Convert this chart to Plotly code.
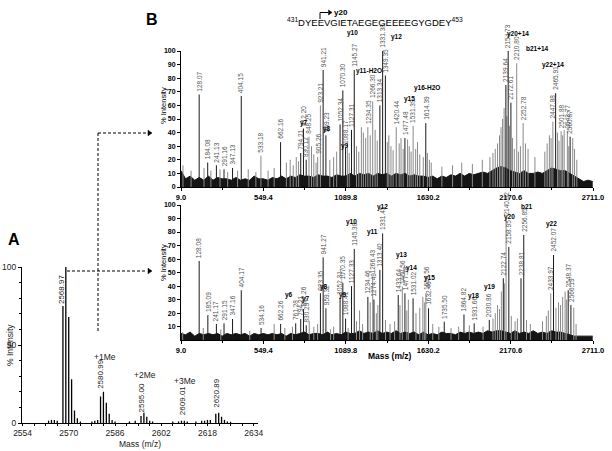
import plotly.graph_objects as go

W, H = 612, 451
FONT = "Liberation Sans, Arial, sans-serif"


def px(x):
    return x / W


def py(y):
    return 1 - y / H


# ---------------- Panel A data ----------------
a_mz = [2563.0, 2564.0, 2565.0, 2566.0, 2567.97, 2568.97, 2569.97, 2570.97, 2571.97, 2572.97,
        2574.0, 2578.0, 2579.0, 2580.0, 2580.99, 2581.99, 2582.99, 2583.99, 2584.99, 2586.0,
        2591.0, 2593.0, 2595.00, 2596.00, 2597.00, 2598.00, 2599.0, 2606.0, 2608.0, 2609.01,
        2610.0, 2611.0, 2614.0, 2616.0, 2617.0, 2618.0, 2619.0, 2620.89, 2621.89, 2622.89,
        2623.89, 2624.89, 2626.0]
a_int = [1.5, 2, 2, 1.5, 75, 100, 68, 28, 8, 3,
         1, 1, 1.5, 2, 17, 20, 13, 6, 2, 1,
         1, 1.5, 4.5, 6.5, 4, 1.5, 1, 1, 1, 1.5,
         1.5, 1, 1, 1.5, 1.5, 2, 2, 6, 6.6, 4,
         2, 1, 0.8]
a_label_text = ["2568.97", "2580.99", "2595.00", "2609.01", "2620.89"]
a_label_mz = [2567.3, 2580.99, 2595.0, 2609.3, 2620.89]
a_label_int = [74, 20, 4.5, 3.0, 8.0]
a_group_text = ["+1Me", "+2Me", "+3Me"]
a_group_mz = [2582.6, 2596.5, 2610.2]
a_group_int = [42, 31, 27]
a_xticks = [2554, 2570, 2586, 2602, 2618, 2634]

# ---------------- Panel B top (methylated) ----------------
top_main_mz = [128.07, 184.08, 241.13, 291.16, 347.13, 404.15, 662.16, 794.21, 812.20, 830.12,
               941.21, 959.23, 1052.34, 1070.30, 1088.17, 1127.31, 1145.27, 1313.34, 1331.38, 1349.35,
               1477.48, 1614.39, 2139.64, 2154.73, 2172.61, 2465.91, 2560.87]
top_main_int = [68, 18, 16, 13, 14, 67, 33, 25, 43, 20,
                86, 38, 46, 71, 29, 42, 86, 60, 100, 82,
                36, 47, 75, 100, 62, 69, 37]
top_over_mz = [533.18, 848.25, 905.26, 923.21, 1234.35, 1266.30, 1420.44, 1531.39, 2210.80, 2252.78,
               2447.88, 2501.88, 2542.77]
top_over_int = [23, 37, 22, 60, 44, 63, 44, 45, 91, 47,
                48, 41, 41]
top_minor_mz = [22, 75, 160, 205, 265,
                315, 380, 450, 500, 580,
                620, 700, 725, 745, 765,
                780, 865, 880, 895, 985,
                1010, 1030, 1100, 1112, 1160,
                1175, 1192, 1205, 1220, 1250,
                1282, 1296, 1362, 1372, 1386,
                1400, 1440, 1452, 1466, 1495,
                1506, 1518, 1548, 1560, 1575,
                1598, 1625, 1638, 1650, 1720,
                1790, 1850, 1920, 1985, 2035,
                2055, 2070, 2085, 2098, 2108,
                2118, 2128, 2146, 2163, 2183,
                2195, 2222, 2235, 2268, 2285,
                2330, 2395, 2410, 2425, 2436,
                2478, 2488, 2512, 2522, 2552,
                2578, 2590, 2605]
top_minor_int = [16, 12, 14, 12, 13,
                 11, 12, 13, 11, 12,
                 14, 18, 20, 16, 22,
                 19, 30, 24, 18, 20,
                 22, 26, 32, 25, 30,
                 26, 44, 40, 36, 38,
                 42, 34, 33, 38, 30,
                 27, 32, 36, 28, 35,
                 30, 26, 28, 33, 24,
                 22, 25, 20, 18, 15,
                 16, 18, 17, 20, 22,
                 25, 28, 32, 38, 44,
                 50, 58, 52, 45, 36,
                 28, 26, 30, 32, 28,
                 22, 26, 32, 38, 36,
                 40, 34, 38, 42, 30,
                 36, 28, 20]
top_ion_text = ["y7", "y8", "y9", "y10", "y11-H2O", "y12", "y15", "y16-H2O", "y20+14", "b21+14", "y22+14"]
top_ion_mz = [818, 969, 1087, 1133, 1245, 1422, 1508, 1620, 2218, 2350, 2448]
top_ion_int = [47, 43, 30, 113, 85, 110, 65, 73, 112.5, 102, 90]

noise_mz = [9, 39, 69, 99, 129, 159, 189, 219, 249, 279,
            309, 339, 369, 399, 429, 459, 489, 519, 549, 579,
            609, 639, 669, 699, 729, 759, 789, 819, 849, 879,
            909, 939, 969, 999, 1029, 1059, 1089, 1119, 1149, 1179,
            1209, 1239, 1269, 1299, 1329, 1359, 1389, 1419, 1449, 1479,
            1509, 1539, 1569, 1599, 1629, 1659, 1689, 1719, 1749, 1779,
            1809, 1839, 1869, 1899, 1929, 1959, 1989, 2019, 2049, 2079,
            2109, 2139, 2169, 2199, 2229, 2259, 2289, 2319, 2349, 2379,
            2409, 2439, 2469, 2499, 2529, 2559, 2589, 2619, 2649, 2679,
            2709]
top_noise = [12, 6, 8, 5, 7, 5, 8, 5, 7, 6,
             6, 5, 7, 5, 6, 5, 8, 6, 6, 5,
             7, 6, 8, 6, 8, 7, 9, 8, 8, 7,
             9, 8, 8, 7, 9, 8, 8, 10, 8, 10,
             9, 10, 8, 10, 9, 10, 8, 10, 9, 10,
             8, 9, 8, 8, 7, 8, 6, 8, 7, 9,
             8, 10, 8, 10, 9, 10, 11, 10, 12, 14,
             15, 14, 12, 11, 10, 12, 10, 10, 11, 10,
             12, 14, 13, 12, 12, 10, 8, 6, 4, 5,
             4]

# ---------------- Panel B bottom (unmodified) ----------------
bot_main_mz = [128.08, 185.09, 241.17, 291.15, 347.16, 404.17, 534.16, 662.26, 761.28, 794.21,
               812.26, 830.29, 923.35, 941.27, 959.32, 1052.31, 1070.35, 1088.41, 1127.33, 1145.38,
               1234.46, 1274.49, 1313.40, 1331.45, 1433.64, 1477.58, 1531.02, 1632.46, 1735.50, 1864.82,
               1931.66, 2030.86, 2122.74, 2158.95, 2238.81, 2256.85, 2452.07, 2548.37, 2566.19]
bot_main_int = [58.6, 18.5, 12, 12.5, 15.7, 37, 9, 12, 12.5, 15.7,
                23, 11, 34.7, 61.3, 23.6, 31.5, 42.5, 16, 40, 67.5,
                32, 30, 52, 79, 33.4, 34.7, 31, 23.6, 13.7, 19,
                12.5, 15, 45.8, 69, 45.8, 77.8, 63, 37, 26]
bot_over_mz = [1266.43, 1460.56, 1614.56, 2140.92, 2433.97]
bot_over_int = [47, 39.6, 34.7, 90, 34.7]
bot_minor_mz = [20, 155, 270, 460, 620,
                690, 740, 850, 880, 905,
                990, 1010, 1105, 1160, 1180,
                1200, 1250, 1290, 1300, 1350,
                1380, 1410, 1445, 1490, 1500,
                1550, 1575, 1595, 1605, 1660,
                1700, 1780, 1830, 1900, 1990,
                2055, 2070, 2085, 2098, 2110,
                2130, 2175, 2200, 2215, 2275,
                2300, 2380, 2405, 2418, 2468,
                2485, 2498, 2512, 2528, 2538,
                2585, 2600]
bot_minor_int = [6, 9, 8, 7, 12,
                 9, 10, 14, 10, 12,
                 8, 10, 9, 14, 22,
                 12, 28, 20, 26, 15,
                 12, 14, 26, 22, 30,
                 20, 24, 32, 28, 12,
                 10, 9, 10, 11, 10,
                 16, 20, 26, 23, 36,
                 42, 18, 14, 16, 15,
                 12, 14, 18, 22, 24,
                 28, 26, 32, 36, 30,
                 24, 12]
bot_ion_text = ["y6", "y7", "y8", "y9", "y10", "y11", "y12", "y13", "y14", "y15", "y18", "y19", "y20", "b21", "y22"]
bot_ion_mz = [719, 829, 949, 1074, 1125, 1263, 1330, 1453, 1519, 1640, 1924, 2034, 2165, 2275, 2440]
bot_ion_int = [33.4, 30.5, 39, 33.4, 87.6, 80, 98.5, 63, 53.4, 46, 33, 39.3, 91.3, 98.7, 86]
bot_noise = [5, 4, 6, 3, 5, 4, 5, 4, 5, 3,
             5, 4, 5, 4, 5, 3, 5, 4, 5, 4,
             5, 4, 5, 3, 5, 4, 5, 6, 4, 5,
             5, 4, 6, 4, 5, 4, 6, 5, 5, 7,
             5, 6, 5, 7, 5, 6, 5, 7, 5, 6,
             5, 6, 4, 6, 4, 5, 4, 6, 5, 5,
             4, 6, 5, 6, 5, 6, 5, 7, 6, 7,
             7, 6, 5, 7, 5, 6, 5, 7, 5, 6,
             5, 7, 6, 6, 5, 4, 3, 3, 3, 3,
             3]

b_xtick0, b_xdtick = 9.0, 540.4
b_xrange = [9.0, 2711.0]
INT_MAX = 100.0


def sticks(mz, inten):
    xs, ys = [], []
    for m, v in zip(mz, inten):
        xs += [m, m, None]
        ys += [0, v, None]
    return xs, ys


fig = go.Figure()


def add_sticks(mz, inten, xa, ya, color, width):
    xs, ys = sticks(mz, inten)
    fig.add_trace(go.Scatter(x=xs, y=ys, mode="lines", xaxis=xa, yaxis=ya,
                             line=dict(color=color, width=width), hoverinfo="skip"))


def add_noise(mz, vals, xa, ya):
    fig.add_trace(go.Scatter(x=mz, y=vals, mode="lines", xaxis=xa, yaxis=ya, fill="tozeroy",
                             fillcolor="#151515", line=dict(color="#151515", width=1),
                             hoverinfo="skip"))


# Panel A
add_sticks(a_mz, a_int, "x", "y", "black", 1.3)
# Panel B top
add_noise(noise_mz, top_noise, "x2", "y2")
add_sticks(top_minor_mz, top_minor_int, "x2", "y2", "#8a8a8a", 1)
add_sticks(top_over_mz, top_over_int, "x2", "y2", "#8a8a8a", 1)
add_sticks(top_main_mz, top_main_int, "x2", "y2", "#1a1a1a", 1)
# Panel B bottom
add_noise(noise_mz, bot_noise, "x3", "y3")
add_sticks(bot_minor_mz, bot_minor_int, "x3", "y3", "#8a8a8a", 1)
add_sticks(bot_over_mz, bot_over_int, "x3", "y3", "#8a8a8a", 1)
add_sticks(bot_main_mz, bot_main_int, "x3", "y3", "#1a1a1a", 1)

ann = []


# labels are placed with "yN domain" refs (range is 0..100) so those above 100 % stay visible
def mass_labels(mz, inten, xr, yr):
    for m, v in zip(mz, inten):
        ann.append(dict(x=m, y=v / INT_MAX, xref=xr, yref=yr + " domain", text=f"{m:.2f}",
                        showarrow=False, textangle=-90, xanchor="center", yanchor="bottom",
                        yshift=1, font=dict(family=FONT, size=6.5, color="#555555")))


def ion_labels(txt, mz, inten, xr, yr):
    for t, m, v in zip(txt, mz, inten):
        ann.append(dict(x=m, y=v / INT_MAX, xref=xr, yref=yr + " domain", text=t,
                        showarrow=False, xanchor="center", yanchor="middle",
                        font=dict(family=FONT, size=6.5, color="black", weight="bold")))


mass_labels(top_main_mz, top_main_int, "x2", "y2")
mass_labels(top_over_mz, top_over_int, "x2", "y2")
ion_labels(top_ion_text, top_ion_mz, top_ion_int, "x2", "y2")
mass_labels(bot_main_mz, bot_main_int, "x3", "y3")
mass_labels(bot_over_mz, bot_over_int, "x3", "y3")
ion_labels(bot_ion_text, bot_ion_mz, bot_ion_int, "x3", "y3")

for t, m, v in zip(a_label_text, a_label_mz, a_label_int):
    ann.append(dict(x=m, y=v, xref="x", yref="y", text=t, showarrow=False, textangle=-90,
                    xanchor="center", yanchor="bottom", yshift=1,
                    font=dict(family=FONT, size=8, color="#222222")))
for t, m, v in zip(a_group_text, a_group_mz, a_group_int):
    ann.append(dict(x=m, y=v, xref="x", yref="y", text=t, showarrow=False,
                    font=dict(family=FONT, size=8.5, color="#222222")))


def paper_text(x, y, text, size, bold=False, angle=0, color="black"):
    ann.append(dict(x=px(x), y=py(y), xref="paper", yref="paper", text=text, showarrow=False,
                    textangle=angle, xanchor="center", yanchor="middle",
                    font=dict(family=FONT, size=size, color=color,
                              weight="bold" if bold else "normal")))


paper_text(14, 240, "A", 16, bold=True)
paper_text(152, 20, "B", 16, bold=True)
paper_text(10, 345, "% Intensity", 8.5, angle=-90, color="#222222")
paper_text(140, 444, "Mass (m/z)", 8.5, color="#222222")
paper_text(163, 106, "% Intensity", 7.5, angle=-90)
paper_text(163, 263, "% Intensity", 7.5, angle=-90)
paper_text(390, 356, "Mass (m/z)", 8.5, bold=True)
paper_text(375, 22, "<sup>431</sup>DYEEVGIETAEGEGEEEEGYGDEY<sup>453</sup>", 9.5)
paper_text(341, 12, "y20", 8, bold=True)

shapes = []


def pline(x0, y0, x1, y1, dash="solid"):
    shapes.append(dict(type="line", xref="paper", yref="paper", x0=px(x0), y0=py(y0),
                       x1=px(x1), y1=py(y1), line=dict(color="black", width=1, dash=dash)))


def ptri_right(x, y, size=4):
    path = (f"M {px(x - size)},{py(y - size * 0.7)} L {px(x)},{py(y)} "
            f"L {px(x - size)},{py(y + size * 0.7)} Z")
    shapes.append(dict(type="path", xref="paper", yref="paper", path=path,
                       fillcolor="black", line=dict(color="black", width=0.5)))


# dashed connectors
pline(98, 133, 98, 333, dash="3px,2px")
pline(98, 133, 147, 133, dash="3px,2px")
ptri_right(152, 133)
pline(67, 271, 147, 271, dash="3px,2px")
ptri_right(152, 271)
# y20 bent arrow in header
pline(320, 19, 320, 12.5)
pline(320, 12.5, 328, 12.5)
ptri_right(332, 12.5, 3.5)

axis_common = dict(showgrid=False, zeroline=False, showline=True, linecolor="black", linewidth=1,
                   ticks="outside", tickcolor="black", tickwidth=1, automargin=False)
bfont = dict(family=FONT, size=7.5, color="black", weight="bold")
afont = dict(family=FONT, size=8.5, color="#222222")

fig.update_layout(
    width=W, height=H, margin=dict(l=0, r=0, t=0, b=0),
    paper_bgcolor="white", plot_bgcolor="white", showlegend=False,
    font=dict(family=FONT, color="black"),
    xaxis=dict(domain=[px(22), px(258)], range=[2553.8, 2635.5], anchor="y",
               tickvals=a_xticks, tickfont=afont, ticklen=2,
               minor=dict(ticks="outside", ticklen=2, dtick=4, tick0=2554, tickcolor="black"),
               **axis_common),
    yaxis=dict(domain=[py(423), py(267)], range=[0, INT_MAX], anchor="x", tick0=0, dtick=50,
               tickfont=afont, ticklen=3,
               minor=dict(ticks="outside", ticklen=2, dtick=10, tick0=0, tickcolor="black"),
               **axis_common),
    xaxis2=dict(domain=[px(181), px(593)], range=b_xrange, anchor="y2", tick0=b_xtick0,
                dtick=b_xdtick, tickformat=".1f", tickfont=bfont, ticklen=3,
                minor=dict(ticks="outside", ticklen=2, dtick=b_xdtick / 2, tick0=b_xtick0,
                           tickcolor="black"),
                **axis_common),
    yaxis2=dict(domain=[py(187), py(51)], range=[0, INT_MAX], anchor="x2", tick0=0, dtick=10,
                tickfont=dict(family=FONT, size=7, color="black", weight="bold"), ticklen=3,
                **axis_common),
    xaxis3=dict(domain=[px(181), px(593)], range=b_xrange, anchor="y3", tick0=b_xtick0,
                dtick=b_xdtick, tickformat=".1f", tickfont=bfont, ticklen=3,
                minor=dict(ticks="outside", ticklen=2, dtick=b_xdtick / 2, tick0=b_xtick0,
                           tickcolor="black"),
                **axis_common),
    yaxis3=dict(domain=[py(340.2), py(205)], range=[0, INT_MAX], anchor="x3",
                tickvals=[10, 20, 30, 40, 50, 60, 70, 80, 90, 100],
                tickfont=dict(family=FONT, size=7, color="black", weight="bold"), ticklen=3,
                **axis_common),
    annotations=ann,
    shapes=shapes,
)

fig.write_html("out.html", config={"displayModeBar": False},
               post_script="document.body.style.margin='0px';")
